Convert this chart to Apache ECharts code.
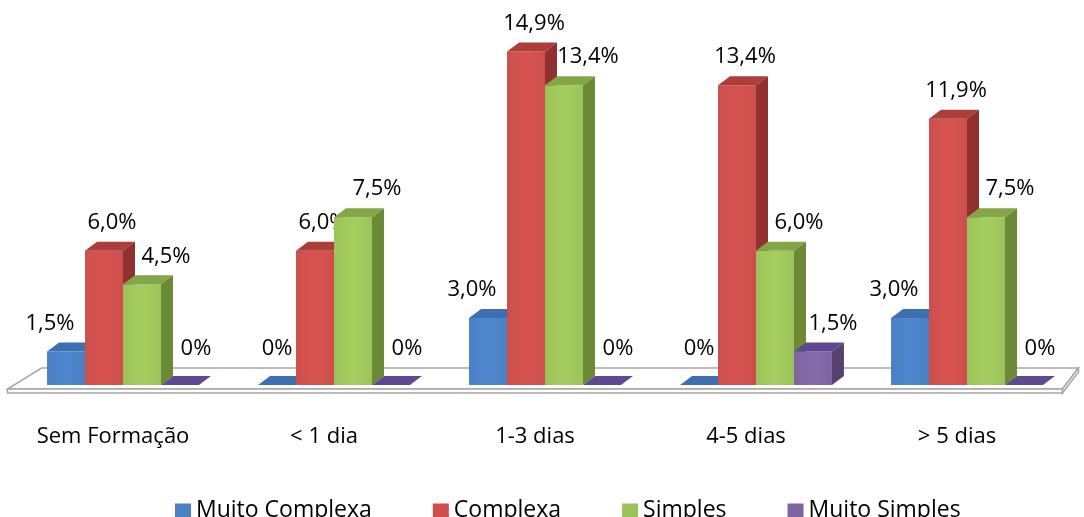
<!DOCTYPE html>
<html>
<head>
<meta charset="utf-8">
<script src="https://cdn.jsdelivr.net/npm/echarts@6/dist/echarts.min.js"></script>
<style>
    html, body { margin: 0; padding: 0; background: #fff; }
    #chart { width: 1084px; height: 517px; }
</style>
</head>
<body>
<div id="chart"></div>
<script>
    // categorias e valores (%)
    const categories = ['Sem Formação', '< 1 dia', '1-3 dias', '4-5 dias', '> 5 dias']
    const seriesNames = ['Muito Complexa', 'Complexa', 'Simples', 'Muito Simples']
    const muitoComplexa = [1.5, 0, 3.0, 0, 3.0]
    const complexa = [6.0, 6.0, 14.9, 13.4, 11.9]
    const simples = [4.5, 7.5, 13.4, 6.0, 7.5]
    const muitoSimples = [0, 0, 0, 1.5, 0]

    const allValues = [muitoComplexa, complexa, simples, muitoSimples]
    // frente, topo, lado
    const palette = [
        ['#4a80c4', '#3e6fb0', '#345985'],
        ['#cc4f4c', '#ab3d3a', '#90312f'],
        ['#9cc35a', '#84a646', '#6a8a36'],
        ['#8064a2', '#5f4892', '#564270']
    ]
    const labelDx = [-16, 8, 24, 20]
    const depthX = 12
    const depthY = 9
    const font = '22px "Open Sans", sans-serif'

    function fmt(v) {
        return v === 0 ? '0%' : v.toFixed(1).replace('.', ',') + '%'
    }

    function barRender(idx) {
        return function (params, api) {
            let cat = api.value(0)
            let val = api.value(1)
            let base = api.coord([cat, 0])
            let top = api.coord([cat, val])
            let band = api.size([1, 0])[0]
            let w = band * 0.18
            let x0 = base[0] - 2 * w + idx * w
            let by = base[1]
            let ty = top[1]
            let c = palette[idx]
            let dx = val === 0 ? (idx === 0 ? 0 : 16) : labelDx[idx]
            let dy = val === 0 ? -36 : -28
            return {
                type: 'group',
                children: [
                    {
                        type: 'rect',
                        shape: { x: x0, y: ty, width: w, height: by - ty },
                        style: {
                            fill: new echarts.graphic.LinearGradient(0, 0, 1, 0, [
                                { offset: 0, color: c[0] },
                                { offset: 0.5, color: echarts.color.lift(c[0], -0.06) },
                                { offset: 1, color: c[0] }
                            ])
                        }
                    },
                    {
                        type: 'polygon',
                        shape: { points: [[x0, ty], [x0 + depthX, ty - depthY], [x0 + w + depthX, ty - depthY], [x0 + w, ty]] },
                        style: { fill: c[1] }
                    },
                    {
                        type: 'polygon',
                        shape: { points: [[x0 + w, ty], [x0 + w + depthX, ty - depthY], [x0 + w + depthX, by - depthY], [x0 + w, by]] },
                        style: { fill: c[2] }
                    },
                    {
                        type: 'text',
                        x: x0 + w / 2 + dx,
                        y: ty + dy,
                        style: {
                            text: fmt(val),
                            font: font,
                            fill: '#000',
                            align: 'center',
                            verticalAlign: 'middle'
                        }
                    }
                ]
            }
        }
    }

    // chão do gráfico 3D
    function floorRender(params, api) {
        let cs = params.coordSys
        let gx = cs.x, gw = cs.width, gb = cs.y + cs.height
        let fl = [gx - 10, gb + 4]
        let fr = [gx + gw - 10, gb + 4]
        let br = [gx + gw + 6, gb - 17]
        let bl = [gx + 24, gb - 17]
        let style = { fill: '#fff', stroke: '#a6a6a6', lineWidth: 1.5 }
        return {
            type: 'group',
            children: [
                { type: 'polygon', shape: { points: [fl, fr, br, bl] }, style: style },
                { type: 'polygon', shape: { points: [fl, fr, [fr[0], fr[1] + 4], [fl[0], fl[1] + 4]] }, style: style },
                { type: 'polygon', shape: { points: [fr, br, [br[0], br[1] + 4], [fr[0], fr[1] + 4]] }, style: style }
            ]
        }
    }

    let series = [{
        type: 'custom',
        name: 'floor',
        renderItem: floorRender,
        data: [[0, 0]],
        silent: true,
        z: 1
    }]
    seriesNames.forEach(function (name, i) {
        series.push({
            type: 'custom',
            name: name,
            renderItem: barRender(i),
            itemStyle: { color: palette[i][0] },
            encode: { x: 0, y: 1 },
            data: allValues[i].map(function (v, j) { return [j, v] }),
            clip: false,
            z: 2 + i
        })
    })

    let chart = echarts.init(document.getElementById('chart'))
    let option = {
        animation: false,
        grid: {
            left: 17.5,
            right: 11.5,
            top: 27,
            bottom: 132
        },
        legend: {
            data: seriesNames,
            left: 170,
            top: 494,
            icon: 'rect',
            itemWidth: 16,
            itemHeight: 14,
            itemGap: 61,
            textStyle: {
                fontFamily: 'Open Sans',
                fontSize: 23,
                color: '#000'
            }
        },
        xAxis: {
            type: 'category',
            data: categories,
            axisLine: { show: false },
            axisTick: { show: false },
            axisLabel: {
                margin: 41,
                fontFamily: 'Open Sans',
                fontSize: 22,
                color: '#000',
                padding: [0, 20, 0, 0]
            }
        },
        yAxis: {
            type: 'value',
            min: 0,
            max: 16,
            show: false
        },
        series: series
    }
    chart.setOption(option)
</script>
</body>
</html>
